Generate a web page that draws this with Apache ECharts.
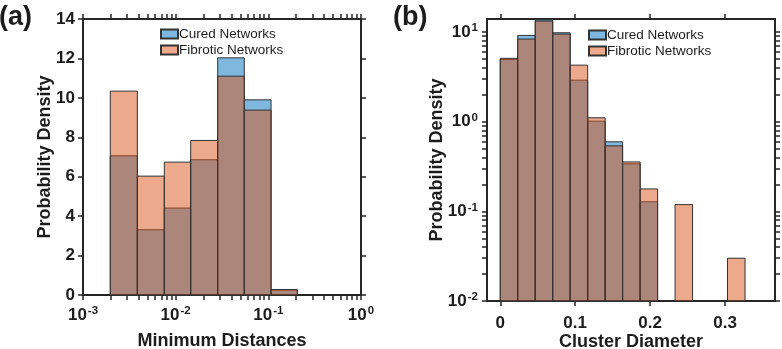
<!DOCTYPE html>
<html>
<head>
<meta charset="utf-8">
<script src="https://cdn.jsdelivr.net/npm/echarts@6/dist/echarts.min.js"></script>
<style>
html, body { margin: 0; padding: 0; background: #fff; }
#chart { width: 782px; height: 349px; }
</style>
</head>
<body>
<div id="chart"></div>
<script>
// (a) minimum distances, log-spaced bins
var distEdges = [0.00197, 0.00386, 0.00754, 0.01452, 0.0284, 0.0550, 0.107, 0.2056];
var distCured = [7.06, 3.31, 4.41, 6.86, 12.03, 9.9, 0.25];
var distFibrotic = [10.34, 6.03, 6.74, 7.84, 11.1, 9.38, 0.28];

// (b) cluster diameter, linear bins
var diamEdges = [0, 0.0233, 0.0467, 0.07, 0.0933, 0.1167, 0.14, 0.1633, 0.1867, 0.21, 0.2333, 0.2567, 0.28, 0.3033, 0.3267];
var diamCured = [4.95, 9.18, 13.7, 9.83, 2.91, 1.015, 0.597, 0.339, 0.128, 0, 0, 0, 0, 0];
var diamFibrotic = [5.1, 8.36, 13.27, 9.5, 4.28, 1.107, 0.538, 0.356, 0.178, 0, 0.119, 0, 0, 0.030];

var distTicks = [0.001, 0.01, 0.1, 1];
var diamTicks = [0, 0.1, 0.2, 0.3];
var densityTicks = [0.01, 0.1, 1, 10];
var seriesNames = ['Cured Networks', 'Fibrotic Networks'];

var font = 'Liberation Sans, Arial, Helvetica, sans-serif';
var ink = '#262626';
var txt = '#1c1c1c';
var blue = 'rgba(0,114,189,0.5)';
var orange = 'rgba(217,83,25,0.5)';

var chart = echarts.init(document.getElementById('chart'));

// tick positions for log axes (1..9 per decade)
function logTicks(lo, hi) {
    var out = [];
    for (var e = lo; e < hi; e++) {
        for (var m = 1; m < 10; m++) out.push(m * Math.pow(10, e));
    }
    out.push(Math.pow(10, hi));
    return out;
}

function toBins(edges, vals) {
    var d = [];
    for (var i = 0; i < vals.length; i++) {
        if (vals[i] > 0) d.push([edges[i], edges[i + 1], vals[i]]);
    }
    return d;
}

function supLabel(v) {
    var e = Math.round(Math.log(v) / Math.LN10);
    return '{b|10}{s|' + e + '}';
}

var supRich = {
    b: { fontSize: 17, fontWeight: 'bold', fontFamily: font, color: txt, lineHeight: 20 },
    s: { fontSize: 11.5, fontWeight: 'bold', fontFamily: font, color: txt, lineHeight: 20, verticalAlign: 'top', padding: [0, 0, 0, 1] }
};

function barItem(fill, base) {
    return function (params, api) {
        var p0 = api.coord([api.value(0), base]);
        var p1 = api.coord([api.value(1), api.value(2)]);
        return {
            type: 'rect',
            shape: { x: p0[0], y: p1[1], width: p1[0] - p0[0], height: p0[1] - p1[1] },
            style: { fill: fill, stroke: '#333', lineWidth: 1 }
        };
    };
}

var line = { show: true, onZero: false, lineStyle: { color: ink, width: 2 } };
function tick(vals) {
    var t = { show: true, inside: false, length: 5, lineStyle: { color: ink, width: 1.5 } };
    if (vals) t.customValues = vals;
    return t;
}
var nameStyle = { fontSize: 18, fontWeight: 'bold', fontFamily: font, color: txt };
var numLabel = { fontSize: 17, fontWeight: 'bold', fontFamily: font, color: txt };
var legendText = { fontSize: 13.5, fontFamily: font, color: txt, padding: [0, 0, 0, -4], lineHeight: 14 };

var distMinor = logTicks(-3, 0);
var densMinor = logTicks(-2, 1);

var o = {
    animation: false,
    title: [
        { text: '(a)', left: -6, top: -1, textStyle: { fontSize: 27, fontWeight: 'bold', fontFamily: font, color: txt } },
        { text: '(b)', left: 388, top: -1, textStyle: { fontSize: 27, fontWeight: 'bold', fontFamily: font, color: txt } }
    ],
    legend: [
        {
            left: 155, top: 22, orient: 'vertical', itemWidth: 17, itemHeight: 9, itemGap: 2,
            icon: 'rect', data: seriesNames, textStyle: legendText
        },
        {
            left: 583, top: 23, orient: 'vertical', itemWidth: 17, itemHeight: 9, itemGap: 2,
            icon: 'rect', data: seriesNames, textStyle: legendText
        }
    ],
    grid: [
        { left: 83, top: 19, width: 278, height: 276, outerBoundsMode: 'none', containLabel: false },
        { left: 487, top: 19, width: 288, height: 282, outerBoundsMode: 'none', containLabel: false }
    ],
    xAxis: [
        {
            gridIndex: 0, type: 'log', logBase: 10, min: 0.001, max: 1, position: 'bottom',
            name: 'Minimum Distances', nameLocation: 'middle', nameGap: 37, nameMoveOverlap: false, nameTextStyle: nameStyle,
            axisLine: line, axisTick: tick(distMinor), splitLine: { show: false }, minorTick: { show: false },
            axisLabel: { customValues: distTicks, margin: 10, formatter: supLabel, rich: supRich }
        },
        {
            gridIndex: 0, type: 'log', logBase: 10, min: 0.001, max: 1, position: 'top',
            axisLine: line, axisTick: tick(distMinor), splitLine: { show: false },
            axisLabel: { show: false }
        },
        {
            gridIndex: 1, type: 'value', min: -0.0177, max: 0.3667, position: 'bottom',
            name: 'Cluster Diameter', nameLocation: 'middle', nameGap: 32, nameMoveOverlap: false, nameTextStyle: nameStyle,
            axisLine: line, axisTick: tick(diamTicks), splitLine: { show: false },
            axisLabel: Object.assign({ customValues: diamTicks, margin: 14 }, numLabel)
        },
        {
            gridIndex: 1, type: 'value', min: -0.0177, max: 0.3667, position: 'top',
            axisLine: line, axisTick: tick(diamTicks), splitLine: { show: false },
            axisLabel: { show: false }
        }
    ],
    yAxis: [
        {
            gridIndex: 0, type: 'value', min: 0, max: 14, interval: 2, position: 'left',
            name: 'Probability Density', nameLocation: 'middle', nameGap: 29, nameMoveOverlap: false, nameTextStyle: nameStyle,
            axisLine: line, axisTick: tick(), splitLine: { show: false },
            axisLabel: Object.assign({ margin: 8 }, numLabel)
        },
        {
            gridIndex: 0, type: 'value', min: 0, max: 14, interval: 2, position: 'right',
            axisLine: line, axisTick: tick(), splitLine: { show: false },
            axisLabel: { show: false }
        },
        {
            gridIndex: 1, type: 'log', logBase: 10, min: 0.01, max: 14, position: 'left',
            name: 'Probability Density', nameLocation: 'middle', nameGap: 41, nameMoveOverlap: false, nameTextStyle: nameStyle,
            axisLine: line, axisTick: tick(densMinor), splitLine: { show: false },
            axisLabel: { customValues: densityTicks, margin: 9, formatter: supLabel, rich: supRich }
        },
        {
            gridIndex: 1, type: 'log', logBase: 10, min: 0.01, max: 14, position: 'right',
            axisLine: line, axisTick: tick(densMinor), splitLine: { show: false },
            axisLabel: { show: false }
        }
    ],
    series: [
        {
            name: seriesNames[0], type: 'custom', xAxisIndex: 0, yAxisIndex: 0,
            itemStyle: { color: blue, borderColor: '#333', borderWidth: 1 },
            renderItem: barItem(blue, 0), encode: { x: [0, 1], y: 2 },
            data: toBins(distEdges, distCured)
        },
        {
            name: seriesNames[1], type: 'custom', xAxisIndex: 0, yAxisIndex: 0,
            itemStyle: { color: orange, borderColor: '#333', borderWidth: 1 },
            renderItem: barItem(orange, 0), encode: { x: [0, 1], y: 2 },
            data: toBins(distEdges, distFibrotic)
        },
        {
            name: seriesNames[0], type: 'custom', xAxisIndex: 2, yAxisIndex: 2,
            itemStyle: { color: blue, borderColor: '#333', borderWidth: 1 },
            renderItem: barItem(blue, 0.01), encode: { x: [0, 1], y: 2 },
            data: toBins(diamEdges, diamCured)
        },
        {
            name: seriesNames[1], type: 'custom', xAxisIndex: 2, yAxisIndex: 2,
            itemStyle: { color: orange, borderColor: '#333', borderWidth: 1 },
            renderItem: barItem(orange, 0.01), encode: { x: [0, 1], y: 2 },
            data: toBins(diamEdges, diamFibrotic)
        }
    ]
};

chart.setOption(o);
</script>
</body>
</html>
